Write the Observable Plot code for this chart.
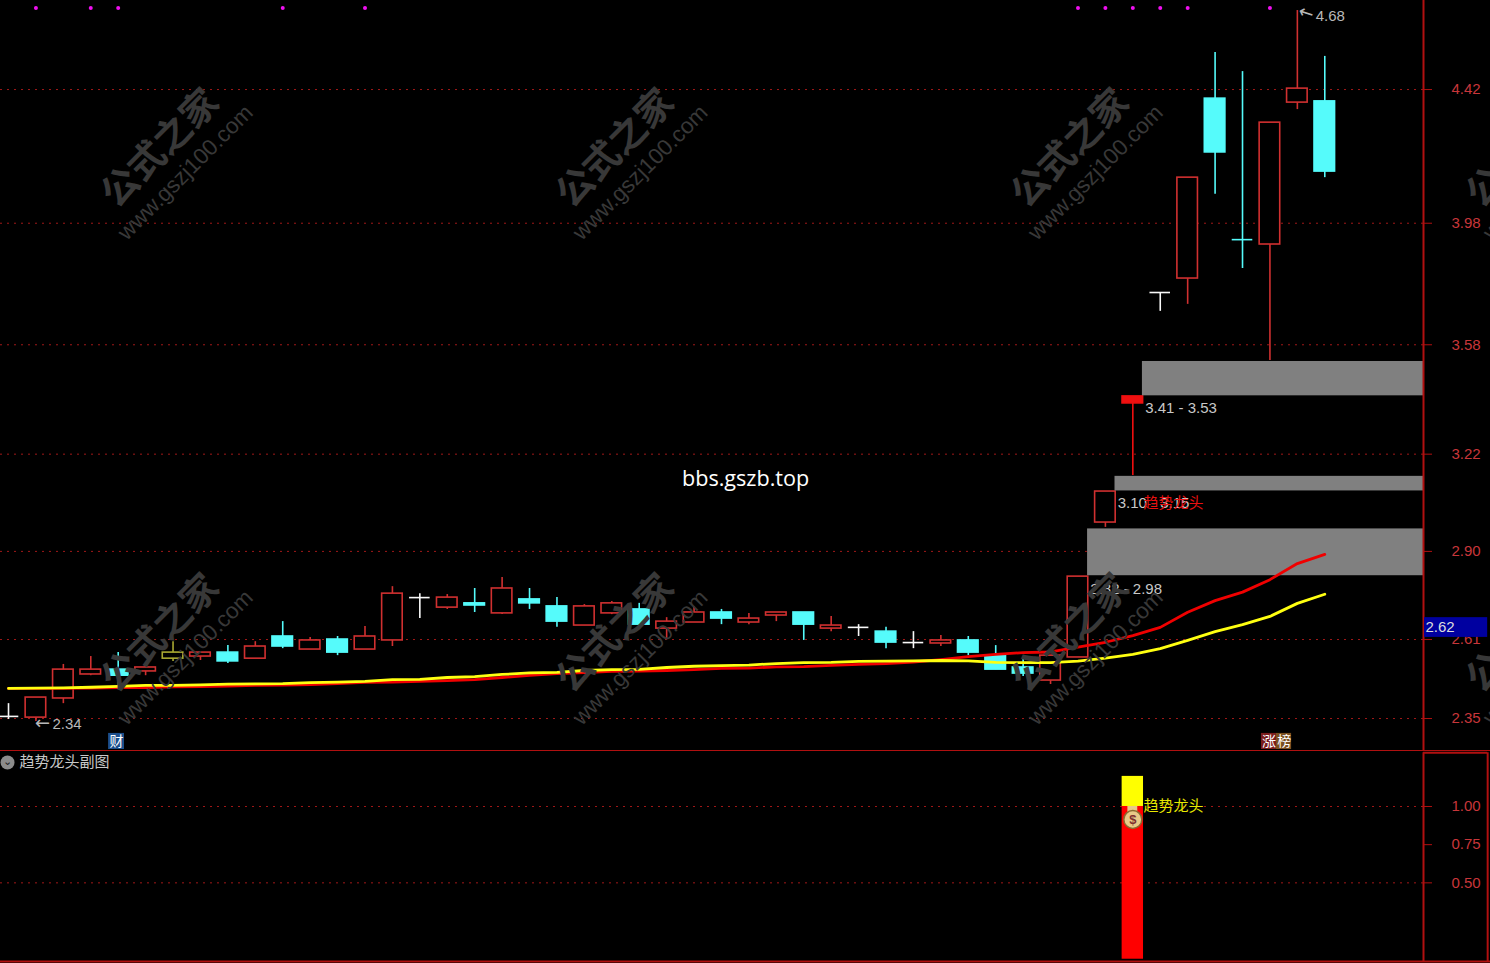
<!DOCTYPE html>
<html><head><meta charset="utf-8">
<script src="https://cdn.jsdelivr.net/npm/d3@7"></script>
<script src="https://cdn.jsdelivr.net/npm/@observablehq/plot@0.6"></script>
<style>html,body{margin:0;padding:0;background:#000;overflow:hidden}svg{display:block}</style>
</head><body><div id="chart"></div>
<script>
const bodyTop=[2.357,2.419,2.511,2.511,2.511,2.518,2.567,2.567,2.567,2.587,2.620,2.607,2.610,2.620,2.761,2.748,2.748,2.729,2.778,2.742,2.719,2.719,2.729,2.709,2.669,2.699,2.699,2.679,2.699,2.699,2.656,2.650,2.636,2.600,2.607,2.607,2.557,2.518,2.557,2.817,3.097,3.410,3.752,4.130,4.390,3.926,4.311,4.423,4.381];
const bodyBottom=[2.357,2.353,2.416,2.495,2.491,2.505,2.547,2.554,2.538,2.547,2.587,2.577,2.567,2.577,2.607,2.748,2.715,2.722,2.696,2.729,2.669,2.656,2.696,2.659,2.646,2.666,2.679,2.666,2.689,2.659,2.646,2.650,2.600,2.600,2.597,2.567,2.511,2.498,2.475,2.551,2.995,3.387,3.752,3.798,4.213,3.926,3.910,4.377,4.150];
const highs=[2.399,2.419,2.528,2.554,2.567,2.528,2.603,2.567,2.590,2.603,2.669,2.617,2.620,2.653,2.784,2.761,2.758,2.778,2.814,2.778,2.748,2.725,2.735,2.729,2.682,2.719,2.709,2.696,2.699,2.699,2.686,2.659,2.650,2.636,2.623,2.620,2.590,2.551,2.557,2.817,3.097,3.410,3.752,4.130,4.542,4.479,4.311,4.680,4.529];
const lows=[2.347,2.340,2.399,2.491,2.459,2.491,2.538,2.541,2.531,2.547,2.580,2.577,2.557,2.577,2.587,2.679,2.709,2.699,2.692,2.709,2.650,2.656,2.692,2.659,2.610,2.666,2.659,2.659,2.669,2.607,2.636,2.620,2.580,2.580,2.587,2.557,2.511,2.488,2.462,2.551,2.979,3.150,3.690,3.713,4.075,3.831,3.528,4.354,4.130];
const kinds="wrrrcrorcrcrcrrwrcrccrrcrrcrrcrwcwrcccrrrRwrccrrc".split("");
const kindColors={r:"#d03030",c:"#55fbfb",w:"#f8f8f8",o:"#a8a832",R:"#f01010"};
const kindFills={r:"#000",c:"#55fbfb",w:"#f8f8f8",o:"#000",R:"#f01010"};
const maRed=[2.449,2.449,2.449,2.450,2.452,2.452,2.454,2.455,2.457,2.459,2.460,2.462,2.465,2.469,2.470,2.472,2.475,2.478,2.485,2.492,2.498,2.501,2.505,2.506,2.508,2.511,2.515,2.516,2.520,2.521,2.525,2.528,2.531,2.536,2.544,2.554,2.561,2.567,2.569,2.585,2.601,2.623,2.650,2.700,2.738,2.766,2.807,2.860,2.890];
const maYellow=[2.449,2.450,2.451,2.453,2.456,2.459,2.459,2.461,2.463,2.464,2.465,2.468,2.470,2.472,2.478,2.479,2.485,2.488,2.495,2.500,2.502,2.508,2.511,2.512,2.518,2.522,2.524,2.526,2.531,2.534,2.535,2.538,2.539,2.540,2.541,2.540,2.535,2.534,2.534,2.539,2.549,2.561,2.580,2.607,2.636,2.659,2.686,2.729,2.759];
const priceTicks=[2.35,2.61,2.90,3.22,3.58,3.98,4.42];
const signalBars=[1,3,4,10,13,39,40,41,42,43,46];
const zoneStart=[39,40,41];
const zoneLow=[2.820,3.099,3.412];
const zoneHigh=[2.974,3.147,3.525];
const zoneLabels=["2.82 - 2.98","3.10 - 3.15","3.41 - 3.53"];
const zoneLabelY=[2.775,3.058,3.370];
const subTicks=[0.50,0.75,1.00];
const subGrid=[0.50,1.00];
const subBarIndex=41, subRed=1.0, subYellow=1.197;

const xDomain=[-0.292,51.6], xFar=53.94, xEdge=54.05;
const candles=bodyTop.map((t,i)=>({i,t,b:bodyBottom[i],h:highs[i],l:lows[i],k:kinds[i]}));
const dojis=candles.filter(d=>d.t===d.b);
const ma=maRed.map((r,i)=>({i,r,y:maYellow[i]}));
const zones=zoneStart.map((s,j)=>({s,lo:zoneLow[j],hi:zoneHigh[j],t:zoneLabels[j],ly:zoneLabelY[j]}));
const wmX=[5.54,22.13,38.73,55.32], wmY=[4.226,2.63];
const wm=wmX.flatMap(x=>wmY.map(y=>({x,y})));
const cjk='"Noto Sans CJK SC",sans-serif', num='"Liberation Sans",sans-serif';
const base={width:1490,marginLeft:0,marginTop:0,marginBottom:0,marginRight:67,
  x:{domain:xDomain,axis:null},color:{type:"identity"},
  style:{background:"#000",color:"#c8363a",fontFamily:num,fontSize:"15px"}};
const gridC="#a01818", axisC="#b01010", dash="2 5";

const mainPanel=Plot.plot({...base,height:751,
 y:{domain:[2.2415,4.713],axis:null},
 marks:[
  Plot.ruleY(priceTicks,{x1:xDomain[0],x2:xDomain[1],stroke:gridC,strokeDasharray:dash}),
  Plot.ruleX(candles,{x:"i",y1:"l",y2:"h",stroke:d=>kindColors[d.k],strokeWidth:1.6}),
  Plot.rect(candles,{x1:d=>d.i-0.375,x2:d=>d.i+0.375,y1:"b",y2:"t",fill:d=>kindFills[d.k],stroke:d=>kindColors[d.k],strokeWidth:1.6}),
  Plot.ruleY(dojis,{y:"t",x1:d=>d.i-0.375,x2:d=>d.i+0.375,stroke:d=>kindColors[d.k],strokeWidth:1.6}),
  Plot.rect(zones,{x1:d=>d.s+0.35,x2:xDomain[1],y1:"lo",y2:"hi",fill:"#808080"}),
  Plot.dot(signalBars,{x:d=>d,y:()=>4.688,r:2,fill:"#f010f0"}),
  Plot.line(ma,{x:"i",y:"r",stroke:"#f00000",strokeWidth:2.8}),
  Plot.line(ma,{x:"i",y:"y",stroke:"#ffff10",strokeWidth:2.8}),
  Plot.text(zones,{x:d=>d.s+0.45,y:"ly",text:"t",textAnchor:"start",fill:"#c8c8c8",fontSize:15,fontFamily:num}),
  Plot.text(["趋势龙头"],{x:()=>41.39,y:()=>3.058,textAnchor:"start",fill:"#e81010",fontSize:15,fontFamily:cjk}),
  Plot.text(["←"],{x:()=>1.24,y:()=>2.336,fill:"#b8b8b8",fontSize:18,fontFamily:'"DejaVu Sans",sans-serif'}),
  Plot.text(["2.34"],{x:()=>1.60,y:()=>2.330,textAnchor:"start",fill:"#b8b8b8",fontSize:15,fontFamily:num}),
  Plot.text(["←"],{x:()=>47.32,y:()=>4.672,rotate:18,fill:"#b8b8b8",fontSize:18,fontFamily:'"DejaVu Sans",sans-serif'}),
  Plot.text(["4.68"],{x:()=>47.67,y:()=>4.660,textAnchor:"start",fill:"#b8b8b8",fontSize:15,fontFamily:num}),
  Plot.text(["bbs.gszb.top"],{x:()=>26.88,y:()=>3.137,fill:"#fff",fontSize:21.6,fontFamily:'"Open Sans",sans-serif'}),
  Plot.rect([0],{x1:()=>3.65,x2:()=>4.23,y1:()=>2.248,y2:()=>2.301,fill:"#1c4f8c"}),
  Plot.text(["财"],{x:()=>3.94,y:()=>2.274,fill:"#fff",fontSize:14,fontFamily:cjk}),
  Plot.rect([0],{x1:()=>45.69,x2:()=>46.24,y1:()=>2.248,y2:()=>2.301,fill:"#7a1c1c"}),
  Plot.rect([0],{x1:()=>46.24,x2:()=>46.79,y1:()=>2.248,y2:()=>2.301,fill:"#7a5020"}),
  Plot.text(["涨","榜"],{x:(d,i)=>45.97+i*0.55,y:()=>2.274,fill:"#fff",fontSize:14,fontFamily:cjk}),
  Plot.axisY(priceTicks,{anchor:"right",label:null,tickFormat:d3.format(".2f"),tickSize:8,tickPadding:20,textAnchor:"start",stroke:axisC,fill:"#c8363a",fontSize:15,fontFamily:num}),
  Plot.ruleX([xDomain[1]],{stroke:axisC,strokeWidth:2}),
  Plot.ruleY([2.243],{x1:xDomain[0],x2:xEdge,stroke:axisC,strokeWidth:2}),
  Plot.rect([0],{x1:()=>51.64,x2:()=>xFar,y1:()=>2.617,y2:()=>2.682,fill:"#0000a0"}),
  Plot.text(["2.62"],{x:()=>51.67,y:()=>2.650,textAnchor:"start",fill:"#ddd",fontSize:15,fontFamily:num}),
  Plot.text(wm,{x:"x",y:"y",text:()=>"公式之家",rotate:-45,fill:"#383838",fontSize:37,fontWeight:700,fontFamily:cjk}),
  Plot.text(wm,{x:d=>d.x+0.91,y:d=>d.y-0.079,text:()=>"www.gszj100.com",rotate:-45,fill:"#383838",fontSize:22.5,fontFamily:'"Liberation Sans",sans-serif'})
 ]});

const subPanel=Plot.plot({...base,height:212,
 y:{domain:[-0.028,1.360],axis:null},
 marks:[
  Plot.ruleY(subGrid,{x1:xDomain[0],x2:xDomain[1],stroke:gridC,strokeDasharray:dash}),
  Plot.rectY([subBarIndex],{x1:d=>d-0.39,x2:d=>d+0.39,y1:0,y2:subRed,fill:"#ff0000"}),
  Plot.rectY([subBarIndex],{x1:d=>d-0.39,x2:d=>d+0.39,y1:subRed,y2:subYellow,fill:"#ffff00"}),
  Plot.rect([0],{x1:()=>40.82,x2:()=>41.18,y1:()=>0.955,y2:()=>1.0,fill:"#e8c988"}),
  Plot.dot([subBarIndex],{x:d=>d,y:()=>0.915,r:9,fill:"#e8c988",stroke:"#8a6a30"}),
  Plot.text(["$"],{x:()=>41,y:()=>0.912,fill:"#803030",fontSize:13,fontWeight:700,fontFamily:num}),
  Plot.text(["趋势龙头"],{x:()=>41.39,y:()=>1.0,textAnchor:"start",fill:"#e8e800",fontSize:15,fontFamily:cjk}),
  Plot.dot([0],{x:()=>-0.036,y:()=>1.288,r:7,fill:"#8c8c8c"}),
  Plot.text(["⌄"],{x:()=>-0.036,y:()=>1.295,fill:"#222",fontSize:11,fontFamily:'"DejaVu Sans",sans-serif'}),
  Plot.text(["趋势龙头副图"],{x:()=>0.40,y:()=>1.288,textAnchor:"start",fill:"#c8c8c8",fontSize:15,fontFamily:cjk}),
  Plot.axisY(subTicks,{anchor:"right",label:null,tickFormat:d3.format(".2f"),tickSize:8,tickPadding:20,textAnchor:"start",stroke:axisC,fill:"#c8363a",fontSize:15,fontFamily:num}),
  Plot.ruleX([xDomain[1],xFar],{y1:-0.015,y2:1.352,stroke:axisC,strokeWidth:2}),
  Plot.ruleY([1.352],{x1:xDomain[1],x2:xFar,stroke:axisC,strokeWidth:2}),
  Plot.ruleY([-0.015],{x1:xDomain[0],x2:xEdge,stroke:axisC,strokeWidth:2})
 ]});
document.getElementById("chart").append(mainPanel,subPanel);
</script></body></html>
